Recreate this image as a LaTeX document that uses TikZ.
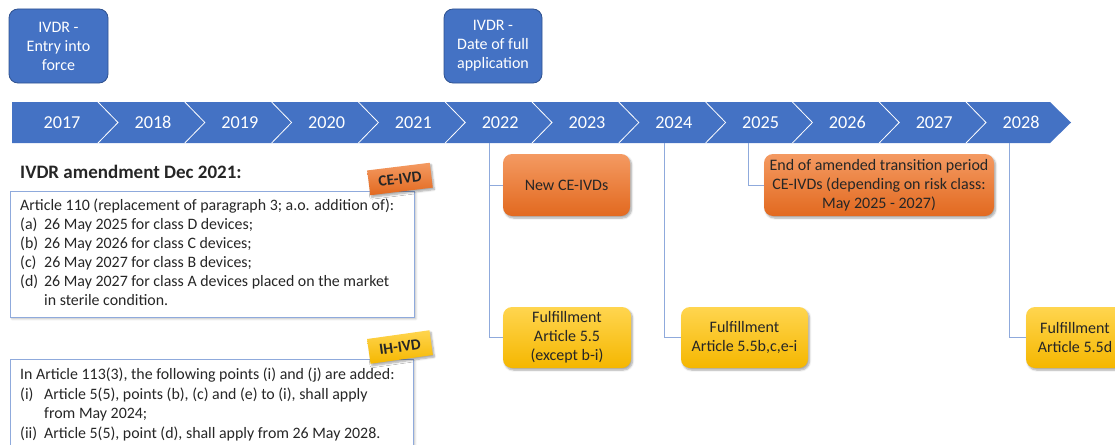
\documentclass[tikz,border=0pt]{standalone}
\usepackage{fontspec}
\setmainfont{Carlito}
\usetikzlibrary{shadows.blur}
\definecolor{ivblue}{HTML}{4472C4}
\definecolor{ivblueD}{HTML}{2F528F}
\definecolor{ivline}{HTML}{8FAADC}
\definecolor{orT}{HTML}{F49A62}
\definecolor{orB}{HTML}{E2691F}
\definecolor{yeT}{HTML}{FFD54F}
\definecolor{yeB}{HTML}{F5B700}
\definecolor{txt}{HTML}{262626}
\newcommand{\hanglbl}[1]{\makebox[24pt][l]{#1}}
\tikzset{
  yearlbl/.style={text=white, font=\fontsize{18.2}{20}\selectfont, inner sep=0, anchor=base},
  bluebox/.style={draw=ivblueD, line width=0.8pt, fill=ivblue, rounded corners=9pt, text=white, align=center, font=\fontsize{16}{19}\selectfont, inner sep=0},
  orbox/.style={top color=orT, bottom color=orB, rounded corners=9pt, text=txt, align=center, font=\fontsize{16}{19}\selectfont, inner sep=0, blur shadow={shadow xshift=1.5pt, shadow yshift=-2pt, shadow opacity=35, shadow blur steps=6}},
  yebox/.style={top color=yeT, bottom color=yeB, rounded corners=9pt, text=txt, align=center, font=\fontsize{16}{19}\selectfont, inner sep=0, blur shadow={shadow xshift=1.5pt, shadow yshift=-2pt, shadow opacity=35, shadow blur steps=6}},
  notebox/.style={draw=ivline, line width=0.9pt, fill=white, inner sep=0, anchor=north west, blur shadow={shadow xshift=1.5pt, shadow yshift=-1.5pt, shadow opacity=25, shadow blur steps=5}},
  notetxt/.style={anchor=base west, inner sep=0, text=txt, font=\fontsize{15.9}{19}\selectfont},
  tagbox/.style={inner sep=0, minimum width=63pt, minimum height=25pt, text=txt, font=\bfseries\fontsize{15.5}{18}\selectfont, blur shadow={shadow xshift=1.5pt, shadow yshift=-2pt, shadow opacity=35, shadow blur steps=6}},
  conn/.style={draw=ivline, line width=0.9pt}
}
\begin{document}
\begin{tikzpicture}[x=1pt,y=-1pt]
\useasboundingbox (0,0) rectangle (1115,444);
\clip (0,0) rectangle (1115,444);
% timeline band
\fill[ivblue] (12,102) -- (1050,102) -- (1071,122.5) -- (1050,143) -- (12,143) -- cycle;
\foreach \k in {0,...,10}
  \draw[white, line width=0.8pt] ({98+86.8*\k},102) -- ({118+86.8*\k},122.5) -- ({98+86.8*\k},143);
\foreach \yr/\xx in {2017/62, 2018/153, 2019/239.8, 2020/326.6, 2021/413.4, 2022/500.2, 2023/587, 2024/673.8, 2025/760.6, 2026/847.4, 2027/934.2, 2028/1021}
  \node[yearlbl] (y\yr) at (\xx,128) {\yr};
% top milestones
\node[bluebox, minimum width=99pt, minimum height=74pt] (entry) at (58.5,46) {IVDR -\\Entry into\\force};
\node[bluebox, minimum width=98pt, minimum height=74pt] (full) at (493,46) {IVDR -\\Date of full\\application};
% title
\node[anchor=base west, inner sep=0, text=txt, font=\bfseries\fontsize{19}{22}\selectfont] (title) at (20,178) {IVDR amendment Dec 2021:};
% CE note box
\node[notebox, minimum width=404pt, minimum height=126pt] (cebox) at (10,191) {};
\node[notetxt] (ce1) at (20,210.5) {Article 110 (replacement of paragraph 3; a.o. addition of):};
\node[notetxt] (ce2) at (20,229.5) {\hanglbl{(a)}26 May 2025 for class D devices;};
\node[notetxt] (ce3) at (20,248.5) {\hanglbl{(b)}26 May 2026 for class C devices;};
\node[notetxt] (ce4) at (20,267.5) {\hanglbl{(c)}26 May 2027 for class B devices;};
\node[notetxt] (ce5) at (20,286.5) {\hanglbl{(d)}26 May 2027 for class A devices placed on the market};
\node[notetxt] (ce6) at (44,305.5) {in sterile condition.};
\node[tagbox, top color=orT, bottom color=orB, rotate=7] (cetag) at (400,179) {CE-IVD};
% IH note box
\node[notebox, minimum width=403pt, minimum height=95pt] (ihbox) at (10,359) {};
\node[notetxt] (ih1) at (20,379.5) {In Article 113(3), the following points (i) and (j) are added:};
\node[notetxt] (ih2) at (20,399) {\hanglbl{(i)}Article 5(5), points (b), (c) and (e) to (i), shall apply};
\node[notetxt] (ih3) at (44,418.5) {from May 2024;};
\node[notetxt] (ih4) at (20,438) {\hanglbl{(ii)}Article 5(5), point (d), shall apply from 26 May 2028.};
\node[tagbox, top color=yeT, bottom color=yeB, rotate=8] (ihtag) at (400,347) {IH-IVD};
% event boxes
\node[orbox, minimum width=127pt, minimum height=62pt] (newce) at (566.5,185) {New CE-IVDs};
\node[orbox, minimum width=230pt, minimum height=62pt] (endtr) at (879,185) {End of amended transition period\\CE-IVDs (depending on risk class:\\May 2025 - 2027)};
\node[yebox, minimum width=128pt, minimum height=61pt] (ful55) at (567,337.5) {Fulfillment\\Article 5.5\\(except b-i)};
\node[yebox, minimum width=127pt, minimum height=61pt] (ful5b) at (744.5,337.5) {Fulfillment\\Article 5.5b,c,e-i};
\node[yebox, minimum width=98pt, minimum height=61pt] (ful5d) at (1075,337.5) {Fulfillment\\Article 5.5d};
% connectors
\coordinate (c22) at (489,143);
\coordinate (c24) at (664,143);
\coordinate (c25) at (748,143);
\coordinate (c28) at (1009,143);
\draw[conn] (c22) |- (newce.west);
\draw[conn] (c22) |- (ful55.west);
\draw[conn] (c24) |- (ful5b.west);
\draw[conn] (c25) |- (endtr.west);
\draw[conn] (c28) |- (ful5d.west);
\end{tikzpicture}
\end{document}
